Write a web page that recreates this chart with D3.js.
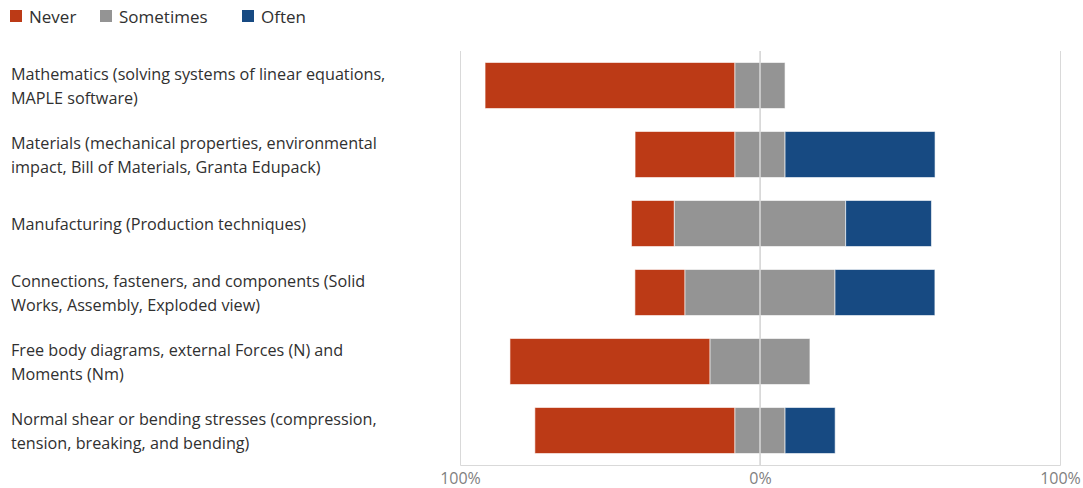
<!DOCTYPE html>
<html>
<head>
<meta charset="utf-8">
<script src="https://cdn.jsdelivr.net/npm/d3@7"></script>
<style>
  body { margin: 0; background: #fff; }
  svg { font-family: "Open Sans", "Noto Sans", sans-serif; }
</style>
</head>
<body>
<svg width="1083" height="488"></svg>
<script>
// topics, each split into two lines as in the original
var topics = [
    ["Mathematics (solving systems of linear equations,", "MAPLE software)"],
    ["Materials (mechanical properties, environmental", "impact, Bill of Materials, Granta Edupack)"],
    ["Manufacturing (Production techniques)"],
    ["Connections, fasteners, and components (Solid", "Works, Assembly, Exploded view)"],
    ["Free body diagrams, external Forces (N) and", "Moments (Nm)"],
    ["Normal shear or bending stresses (compression,", "tension, breaking, and bending)"]
];
var never     = [83.3, 33.3, 14.3, 16.7, 66.7, 66.7];
var sometimes = [16.7, 16.7, 57.1, 50.0, 33.3, 16.7];
var often     = [0.0, 50.0, 28.6, 33.3, 0.0, 16.7];
var tickValues = [-100, 0, 100];

var keys = ["Never", "Sometimes", "Often"];
var colors = ["#bc3a16", "#949494", "#174a82"];

var svg = d3.select("svg"),
    margin = {top: 51, right: 23, bottom: 23, left: 460},
    width = +svg.attr("width") - margin.left - margin.right,
    height = +svg.attr("height") - margin.top - margin.bottom,
    g = svg.append("g").attr("transform", "translate(" + margin.left + "," + margin.top + ")");

var x = d3.scaleLinear().domain([-100, 100]).range([0, width]);
var y = d3.scaleBand().domain(d3.range(topics.length)).range([0, height]).paddingInner(0.333).paddingOuter(0.1665);
var z = d3.scaleOrdinal().domain(keys).range(colors);

// build segments: sometimes centred on zero
var rows = topics.map(function(t, i) {
    var left = -never[i] - sometimes[i] / 2;
    var segs = [];
    var vals = [never[i], sometimes[i], often[i]];
    var pos = left;
    keys.forEach(function(k, j) {
        segs.push({key: k, x0: pos, x1: pos + vals[j], row: i});
        pos += vals[j];
    });
    return segs;
});

// gridlines
g.append("g")
    .attr("class", "grid")
    .attr("transform", "translate(0," + height + ")")
    .call(d3.axisBottom(x).tickValues(tickValues).tickSize(-height).tickFormat(""))
    .call(function(a) {
        a.select(".domain").attr("stroke", "#d9d9d9");
        a.selectAll(".tick line").attr("stroke", "#d9d9d9");
    });

// bars
var rowG = g.selectAll(".row")
    .data(rows)
    .enter().append("g")
    .attr("class", "row");

rowG.selectAll("rect")
    .data(function(d) { return d.filter(function(s) { return s.x1 - s.x0 > 0; }); })
    .enter().append("rect")
    .attr("x", function(d) { return x(d.x0); })
    .attr("width", function(d) { return x(d.x1) - x(d.x0); })
    .attr("y", function(d) { return y(d.row); })
    .attr("height", y.bandwidth())
    .attr("fill", function(d) { return z(d.key); })
    .attr("stroke", "#ffffff")
    .attr("stroke-opacity", 0.6)
    .attr("stroke-width", 1);

// zero line over the bars
g.append("line")
    .attr("x1", x(0)).attr("x2", x(0))
    .attr("y1", 0).attr("y2", height)
    .attr("stroke", "#d9d9d9")
    .attr("stroke-width", 1.5);

// x axis labels
var xAxis = g.append("g")
    .attr("transform", "translate(0," + height + ")")
    .call(d3.axisBottom(x).tickValues(tickValues).tickSize(0).tickPadding(8)
        .tickFormat(function(d) { return Math.abs(d) + "%"; }));
xAxis.select(".domain").remove();
xAxis.selectAll("text")
    .attr("fill", "#7f7f7f")
    .style("font-size", "16px")
    .style("font-family", "\"Open Sans\", sans-serif");

// category labels
var lineH = 24;
var labels = svg.append("g")
    .selectAll("text")
    .data(topics)
    .enter().append("text")
    .attr("x", 11)
    .attr("fill", "#303030")
    .style("font-size", "16.2px");

labels.each(function(d, i) {
    var cy = margin.top + y(i) + y.bandwidth() / 2 + 1;
    var t = d3.select(this);
    d.forEach(function(line, j) {
        t.append("tspan")
            .attr("x", 11)
            .attr("y", cy + (j - (d.length - 1) / 2) * lineH)
            .attr("dy", "0.35em")
            .text(line);
    });
});

// legend
var legendX = [10, 100, 242];
var legend = svg.append("g")
    .selectAll("g")
    .data(keys)
    .enter().append("g")
    .attr("transform", function(d, i) { return "translate(" + legendX[i] + ",10)"; });

legend.append("rect")
    .attr("width", 12)
    .attr("height", 12)
    .attr("fill", function(d) { return z(d); });

legend.append("text")
    .attr("x", 19)
    .attr("y", 7)
    .attr("dy", "0.35em")
    .attr("fill", "#303030")
    .style("font-size", "17px")
    .text(function(d) { return d; });
</script>
</body>
</html>
